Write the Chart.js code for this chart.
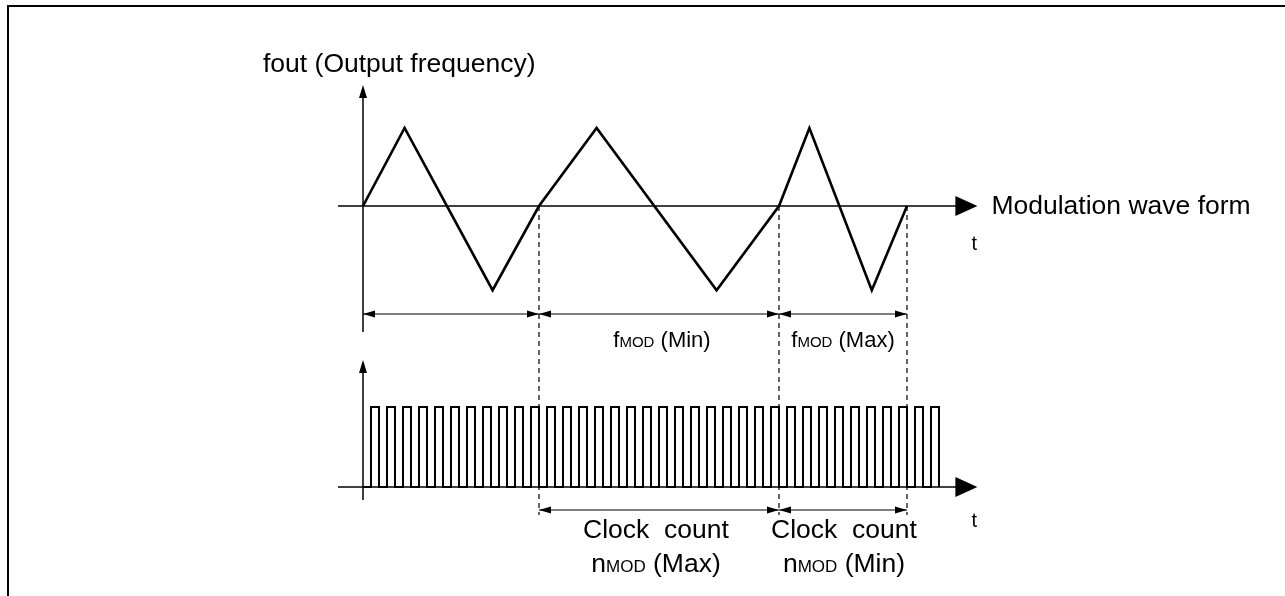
<!DOCTYPE html>
<html>
<head>
<meta charset="utf-8">
<script src="https://cdn.jsdelivr.net/npm/chart.js@4.4.1/dist/chart.umd.min.js"></script>
<style>
  html, body { margin: 0; padding: 0; background: #fff; }
  canvas { display: block; }
</style>
</head>
<body>
<canvas id="grafico" width="1285" height="596"></canvas>
<script>
// tempo em periodos de clock (0 = eixo vertical)
const triTempo = [0, 2.6, 8.1, 11, 14.6, 22.1, 26, 27.9, 31.8, 34];
const triFreq = [0, 1, -1.08, 0, 1, -1.08, 0, 1, -1.08, 0];
// cruzamentos por zero que limitam cada periodo de modulacao
const cruzamentos = [0, 11, 26, 34];
const rotulosPeriodo = [null, 'Min', 'Max'];
const rotulosContagem = [null, 'Max', 'Min'];
// subida de cada pulso de clock
const pulsosSubida = [0.5, 1.5, 2.5, 3.5, 4.5, 5.5, 6.5, 7.5, 8.5, 9.5, 10.5, 11.5,
  12.5, 13.5, 14.5, 15.5, 16.5, 17.5, 18.5, 19.5, 20.5, 21.5, 22.5, 23.5,
  24.5, 25.5, 26.5, 27.5, 28.5, 29.5, 30.5, 31.5, 32.5, 33.5, 34.5, 35.5];
const larguraPulso = 0.5;

const FONTE = '"Liberation Sans", Arial, sans-serif';
const W = 1285, H = 596;
const origemX = 363, pxPorClock = 16;
const baseTop = 206, pxTop = 78;
const baseClk = 487, pxClk = 80;

const dadosTri = triTempo.map((t, i) => ({ x: t, y: triFreq[i] }));
const dadosClk = [{ x: 0, y: 0 }];
pulsosSubida.forEach(t => {
  dadosClk.push({ x: t, y: 0 }, { x: t, y: 1 }, { x: t + larguraPulso, y: 1 }, { x: t + larguraPulso, y: 0 });
});

function seta(ctx, x, y, dx, dy, comp, meia) {
  const px = -dy, py = dx;
  ctx.beginPath();
  ctx.moveTo(x, y);
  ctx.lineTo(x - dx * comp + px * meia, y - dy * comp + py * meia);
  ctx.lineTo(x - dx * comp - px * meia, y - dy * comp - py * meia);
  ctx.closePath();
  ctx.fill();
}

function linha(ctx, x1, y1, x2, y2) {
  ctx.beginPath();
  ctx.moveTo(x1, y1);
  ctx.lineTo(x2, y2);
  ctx.stroke();
}

function cota(ctx, xa, xb, y) {
  ctx.lineWidth = 1.2;
  linha(ctx, xa, y, xb, y);
  seta(ctx, xa, y, -1, 0, 12, 3.5);
  seta(ctx, xb, y, 1, 0, 12, 3.5);
}

// texto com "MOD" menor na linha de base
function textoSub(ctx, antes, sub, depois, cx, yBase, tam, tamSub) {
  ctx.font = tam + 'px ' + FONTE;
  const w1 = ctx.measureText(antes).width;
  const w3 = ctx.measureText(depois).width;
  ctx.font = tamSub + 'px ' + FONTE;
  const w2 = ctx.measureText(sub).width;
  let x = cx - (w1 + w2 + w3) / 2;
  ctx.textAlign = 'left';
  ctx.font = tam + 'px ' + FONTE;
  ctx.fillText(antes, x, yBase);
  x += w1;
  ctx.font = tamSub + 'px ' + FONTE;
  ctx.fillText(sub, x, yBase);
  x += w2;
  ctx.font = tam + 'px ' + FONTE;
  ctx.fillText(depois, x, yBase);
}

const desenho = {
  id: 'desenho',
  beforeDatasetsDraw(chart) {
    const ctx = chart.ctx;
    const sx = chart.scales.x, st = chart.scales.yTop, sc = chart.scales.yClk;
    const x0 = sx.getPixelForValue(0);
    const yT = st.getPixelForValue(0);
    const yC = sc.getPixelForValue(0);
    const xFim = sx.getPixelForValue(pulsosSubida[pulsosSubida.length - 1] + 2.9);
    ctx.save();
    ctx.strokeStyle = '#000';
    ctx.fillStyle = '#000';

    // moldura (so topo e esquerda aparecem no recorte)
    ctx.lineWidth = 2;
    ctx.beginPath();
    ctx.moveTo(8, H + 2);
    ctx.lineTo(8, 6);
    ctx.lineTo(W + 2, 6);
    ctx.stroke();

    // eixos superiores
    ctx.lineWidth = 1.5;
    linha(ctx, x0, yT - 115, x0, yT + 126);
    seta(ctx, x0, yT - 121, 0, -1, 13, 4);
    linha(ctx, x0 - 25, yT, xFim - 10, yT);
    seta(ctx, xFim, yT, 1, 0, 22, 10);

    // eixos inferiores
    linha(ctx, x0, yC - 121, x0, yC + 13);
    seta(ctx, x0, yC - 127, 0, -1, 13, 4);
    linha(ctx, x0 - 25, yC, xFim - 10, yC);
    seta(ctx, xFim, yC, 1, 0, 22, 10);

    // linhas tracejadas nos cruzamentos
    ctx.lineWidth = 1.2;
    ctx.setLineDash([5, 4]);
    cruzamentos.slice(1).forEach(t => {
      const x = sx.getPixelForValue(t);
      linha(ctx, x, yT, x, yC + 28);
    });
    ctx.setLineDash([]);

    // cotas
    const yCotaTop = yT + 108, yCotaClk = yC + 23;
    for (let i = 0; i < cruzamentos.length - 1; i++) {
      const xa = sx.getPixelForValue(cruzamentos[i]);
      const xb = sx.getPixelForValue(cruzamentos[i + 1]);
      cota(ctx, xa, xb, yCotaTop);
      if (i > 0) cota(ctx, xa, xb, yCotaClk);
    }

    // textos
    ctx.textBaseline = 'alphabetic';
    ctx.textAlign = 'left';
    ctx.font = '26.5px ' + FONTE;
    ctx.fillText('fout (Output frequency)', 263, 72);
    ctx.fillText('Modulation wave form', xFim + 14, yT + 8);
    ctx.font = '20px ' + FONTE;
    ctx.fillText('t', xFim - 6, yT + 44);
    ctx.fillText('t', xFim - 6, yC + 40);

    for (let i = 1; i < cruzamentos.length - 1; i++) {
      const xa = sx.getPixelForValue(cruzamentos[i]);
      const xb = sx.getPixelForValue(cruzamentos[i + 1]);
      const cx = (xa + xb) / 2 + (i === 1 ? 3 : 0);
      textoSub(ctx, 'f', 'MOD', ' (' + rotulosPeriodo[i] + ')', cx, yCotaTop + 33, 22, 15);
      const cx2 = (xa + xb) / 2 + (i === 1 ? -3 : 1);
      ctx.font = '26.5px ' + FONTE;
      ctx.textAlign = 'center';
      ctx.fillText('Clock  count', cx2, yC + 51);
      textoSub(ctx, 'n', 'MOD', ' (' + rotulosContagem[i] + ')', cx2, yC + 85, 26.5, 17);
    }
    ctx.restore();
  }
};

new Chart(document.getElementById('grafico'), {
  type: 'scatter',
  data: {
    datasets: [
      { label: 'fout', data: dadosTri, yAxisID: 'yTop', showLine: true, borderColor: '#000',
        borderWidth: 2.6, borderJoinStyle: 'miter', pointRadius: 0, tension: 0, fill: false },
      { label: 'clock', data: dadosClk, yAxisID: 'yClk', showLine: true, borderColor: '#000',
        borderWidth: 2, borderJoinStyle: 'miter', pointRadius: 0, tension: 0, fill: false }
    ]
  },
  options: {
    responsive: false,
    animation: false,
    devicePixelRatio: 1,
    layout: { padding: 0 },
    plugins: { legend: { display: false }, tooltip: { enabled: false } },
    scales: {
      x: { type: 'linear', display: false, min: -origemX / pxPorClock, max: (W - origemX) / pxPorClock },
      yTop: { type: 'linear', display: false, min: (baseTop - H) / pxTop, max: baseTop / pxTop },
      yClk: { type: 'linear', display: false, min: (baseClk - H) / pxClk, max: baseClk / pxClk }
    }
  },
  plugins: [desenho]
});
</script>
</body>
</html>
